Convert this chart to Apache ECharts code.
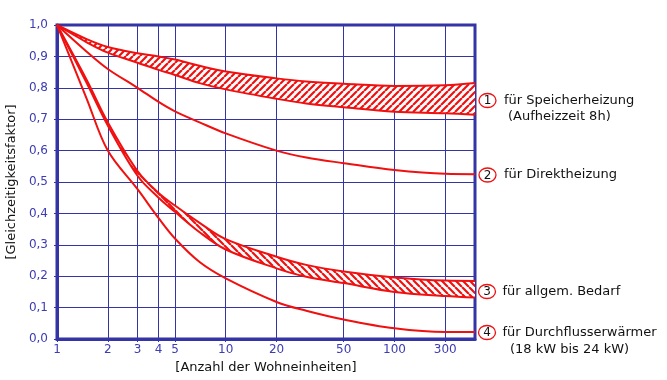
<!DOCTYPE html>
<html>
<head>
<meta charset="utf-8">
<script src="https://cdn.jsdelivr.net/npm/echarts@6/dist/echarts.min.js"></script>
<style>
html,body{margin:0;padding:0;background:#fff;}
#c{width:667px;height:380px;}
</style>
</head>
<body>
<div id="c"></div>
<script>
// ---- data ----
const xN = [1, 1.5, 2, 3, 4, 5, 7, 10, 20, 30, 50, 100, 200, 300];
const band1Upper = [1.0, 0.955, 0.93, 0.91, 0.90, 0.89, 0.87, 0.852, 0.83, 0.82, 0.813, 0.806, 0.808, 0.815];
const band1Lower = [1.0, 0.945, 0.912, 0.88, 0.857, 0.841, 0.815, 0.795, 0.765, 0.75, 0.738, 0.724, 0.719, 0.714];
const curve2 = [1.0, 0.915, 0.86, 0.80, 0.755, 0.725, 0.69, 0.655, 0.60, 0.578, 0.56, 0.538, 0.526, 0.525];
const band3Upper = [1.0, 0.825, 0.69, 0.535, 0.465, 0.425, 0.37, 0.318, 0.262, 0.236, 0.215, 0.196, 0.186, 0.185];
const band3Lower = [1.0, 0.815, 0.68, 0.52, 0.45, 0.405, 0.34, 0.285, 0.225, 0.198, 0.178, 0.15, 0.137, 0.132];
const curve4 = [1.0, 0.765, 0.60, 0.477, 0.385, 0.32, 0.245, 0.193, 0.118, 0.09, 0.062, 0.034, 0.022, 0.022];

// x grid lines (log positions) and their printed labels (the reference prints "300" on its last inner line)
const xTickValues = [1, 2, 3, 4, 5, 10, 20, 50, 100, 200];
const xTickLabels = ['1', '2', '3', '4', '5', '10', '20', '50', '100', '300'];
const xMax = 300;

const labelTexts = {
  n1: '1', t1a: 'für Speicherheizung', t1b: '(Aufheizzeit 8h)',
  n2: '2', t2: 'für Direktheizung',
  n3: '3', t3: 'für allgem. Bedarf',
  n4: '4', t4a: 'für Durchflusserwärmer', t4b: '(18 kW bis 24 kW)'
};

// ---- styling ----
const RED = '#f01010';
const BLUE = '#3434a6';
const LBLUE = '#3c3cb4';
const FONT = 'DejaVu Sans';

function hatch(dir) {
  const s = 7;
  const c = document.createElement('canvas');
  c.width = s; c.height = s;
  const g = c.getContext('2d');
  g.fillStyle = '#fff';
  g.fillRect(0, 0, s, s);
  g.strokeStyle = RED;
  g.lineWidth = 2.2;
  g.beginPath();
  for (const k of [-s, 0, s]) {
    if (dir === '/') { g.moveTo(k, s); g.lineTo(k + s, 0); }
    else { g.moveTo(k, 0); g.lineTo(k + s, s); }
  }
  g.stroke();
  return { image: c, repeat: 'repeat' };
}

const lg = v => Math.log10(v);
// rows are [y, log10(n)] so that stacking happens on the y dimension
const pts = ys => xN.map((n, i) => [ys[i], lg(n)]);
const diff = (u, l) => xN.map((n, i) => [+(u[i] - l[i]).toFixed(4), lg(n)]);

const lineBase = {
  type: 'line', smooth: 0.35, symbol: 'none', encode: { x: 1, y: 0 },
  lineStyle: { color: RED, width: 2 }, silent: true, z: 3
};

const chart = echarts.init(document.getElementById('c'), null, { renderer: 'canvas' });

const option = {
  animation: false,
  backgroundColor: '#fff',
  grid: {
    left: 57, right: 192, top: 25, bottom: 41,
    show: true, borderColor: BLUE, borderWidth: 3, backgroundColor: 'transparent',
    outerBoundsMode: 'none'
  },
  xAxis: {
    type: 'value', min: 0, max: lg(xMax),
    name: '[Anzahl der Wohneinheiten]', nameLocation: 'middle', nameGap: 22,
    nameTextStyle: { color: '#111', fontFamily: FONT, fontSize: 13 },
    axisLine: { lineStyle: { color: BLUE, width: 3 } },
    axisTick: { show: true, length: 3, lineStyle: { color: BLUE }, customValues: xTickValues.map(lg) },
    splitLine: { show: true, lineStyle: { color: BLUE, width: 1 } },
    axisLabel: {
      customValues: xTickValues.map(lg),
      color: LBLUE, fontFamily: FONT, fontSize: 12, margin: 5,
      formatter: v => {
        let best = 0;
        xTickValues.forEach((t, i) => { if (Math.abs(lg(t) - v) < Math.abs(lg(xTickValues[best]) - v)) best = i; });
        return xTickLabels[best];
      }
    }
  },
  yAxis: {
    type: 'value', min: 0, max: 1, interval: 0.1,
    name: '[Gleichzeitigkeitsfaktor]', nameLocation: 'middle', nameGap: 36,
    nameTextStyle: { color: '#111', fontFamily: FONT, fontSize: 13 },
    axisLine: { show: true, lineStyle: { color: BLUE, width: 3 } },
    axisTick: { show: true, length: 3, lineStyle: { color: BLUE } },
    splitLine: { show: true, lineStyle: { color: BLUE, width: 1 } },
    axisLabel: {
      color: LBLUE, fontFamily: FONT, fontSize: 12, margin: 9,
      formatter: v => v.toFixed(1).replace('.', ',')
    }
  },
  series: [
    Object.assign({}, lineBase, { name: 'b1l', stack: 'b1', data: pts(band1Lower) }),
    Object.assign({}, lineBase, { name: 'b1u', stack: 'b1', data: diff(band1Upper, band1Lower),
      areaStyle: { color: hatch('/'), opacity: 1 } }),
    Object.assign({}, lineBase, { name: 'c2', data: pts(curve2) }),
    Object.assign({}, lineBase, { name: 'b3l', stack: 'b3', data: pts(band3Lower) }),
    Object.assign({}, lineBase, { name: 'b3u', stack: 'b3', data: diff(band3Upper, band3Lower),
      areaStyle: { color: hatch('\\'), opacity: 1 } }),
    Object.assign({}, lineBase, { name: 'c4', data: pts(curve4) })
  ]
};

function circ(cx, cy, num) {
  return [
    { type: 'ellipse', shape: { cx: cx, cy: cy, rx: 8.5, ry: 7 },
      style: { fill: '#fff', stroke: RED, lineWidth: 1.3 }, z: 10 },
    { type: 'text', x: cx, y: cy + 0.5,
      style: { text: num, fill: '#111', font: '12px "DejaVu Sans"', align: 'center', verticalAlign: 'middle' }, z: 11 }
  ];
}
function txt(x, y, t) {
  return { type: 'text', x: x, y: y,
    style: { text: t, fill: '#111', font: '13px "DejaVu Sans"', align: 'left', verticalAlign: 'middle' }, z: 11 };
}

option.graphic = [].concat(
  circ(487.5, 100.5, labelTexts.n1), [txt(504, 100.5, labelTexts.t1a), txt(508, 117, labelTexts.t1b)],
  circ(487.5, 175, labelTexts.n2), [txt(504, 175, labelTexts.t2)],
  circ(487, 291.5, labelTexts.n3), [txt(502.5, 291.5, labelTexts.t3)],
  circ(487, 332.5, labelTexts.n4), [txt(502.5, 332.5, labelTexts.t4a), txt(510, 349.5, labelTexts.t4b)]
);

chart.setOption(option);
</script>
</body>
</html>
